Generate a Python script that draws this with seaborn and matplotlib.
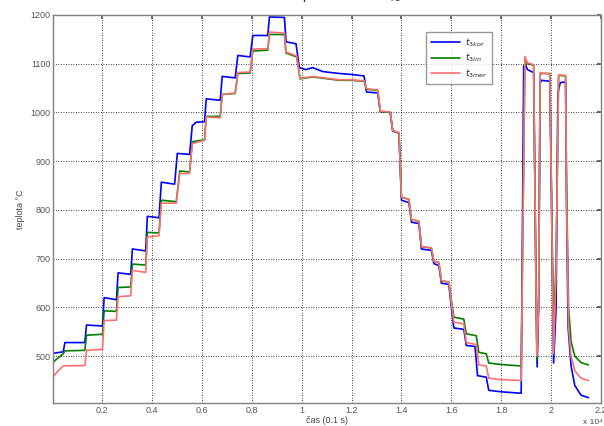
"""Prubeh teplot t3 - korekcia / linearna / meranie, MATLAB-like look."""
import matplotlib
matplotlib.use("Agg")
import matplotlib.pyplot as plt
import numpy as np
import pandas as pd
import seaborn as sns

sns.set_theme(style="white")
plt.rcParams["font.family"] = ["Liberation Sans", "DejaVu Sans"]

# ---- data (cas in 0.1 s samples, teplota in degC)
kor_x = [40, 440, 507, 1307, 1373, 2013, 2080, 2573, 2640, 3146, 3213, 3746,
         3813, 4280, 4373, 4906, 5013, 5506, 5613, 5773, 6106, 6173, 6733,
         6813, 7333, 7440, 7933, 8040, 8640, 8707, 9307, 9373, 9773, 9907,
         10173, 10440, 10840, 11507, 12000, 12500, 12600, 13050, 13150,
         13550, 13650, 13900, 14000, 14300, 14400, 14700, 14800, 15200,
         15300, 15500, 15600, 15900, 16000, 16100, 16500, 16600, 16950,
         17050, 17400, 17500, 18000, 18800,
         18900, 18960, 19050, 19300, 19380, 19440, 19500, 19560, 19620,
         19950, 20020, 20100, 20200, 20270, 20350, 20400, 20580, 20620,
         20680, 20800, 20950, 21200, 21500]
kor_y = [506, 509, 528, 528, 564, 562, 620, 616, 671, 668, 720, 716,
         787, 784, 857, 853, 916, 914, 973, 980, 981, 1028, 1025,
         1074, 1071, 1117, 1114, 1158, 1158, 1196, 1195, 1145, 1141, 1092,
         1088, 1092, 1084, 1080, 1078, 1075, 1042, 1040, 1002,
         1000, 962, 958, 820, 815, 775, 772, 720, 717, 690,
         686, 650, 647, 600, 558, 555, 522, 520,
         460, 457, 430, 427, 424,
         1095, 1100, 1088, 1082, 700, 478, 600, 1060, 1066,
         1064, 800, 486, 600, 1040, 1058, 1062, 1062, 800,
         560, 480, 440, 420, 415]

lin_x = [40, 200, 440, 507, 1307, 1373, 2013, 2080, 2573, 2640, 3146, 3213,
         3746, 3813, 4280, 4373, 4973, 5113, 5506, 5613, 6106, 6173, 6733,
         6813, 7333, 7440, 7933, 8040, 8640, 8707, 9307, 9373, 9800, 9933,
         10440, 11507, 12000, 12500, 12600, 13050, 13150,
         13550, 13650, 13900, 14000, 14300, 14400, 14700, 14800, 15200,
         15300, 15500, 15600, 15900, 16000, 16100, 16500, 16600, 17000,
         17100, 17400, 17500, 18000, 18800,
         18950, 19050, 19300, 19380, 19430, 19500, 19560, 19620,
         19950, 20020, 20100, 20200, 20300, 20350, 20580, 20620,
         20700, 20800, 20950, 21200, 21500]
lin_y = [488, 495, 505, 511, 512, 543, 545, 593, 592, 641, 642, 689,
         687, 754, 753, 820, 817, 880, 878, 940, 944, 992, 992,
         1037, 1039, 1080, 1081, 1126, 1128, 1160, 1160, 1122, 1114, 1069,
         1073, 1066, 1066, 1064, 1048, 1045, 1002,
         1000, 962, 958, 826, 822, 780, 777, 725, 722, 695,
         692, 655, 652, 615, 580, 576, 546, 542,
         508, 505, 486, 483, 480,
         1111, 1100, 1097, 720, 492, 620, 1078, 1080,
         1080, 820, 540, 700, 1075, 1076, 1075, 850,
         600, 530, 500, 487, 482]

mer_x = [40, 200, 440, 1307, 1373, 2013, 2080, 2573, 2640, 3146, 3213, 3746,
         3813, 4280, 4373, 4973, 5113, 5506, 5613, 6106, 6173, 6733,
         6813, 7333, 7440, 7933, 8040, 8640, 8707, 9307, 9373, 9800, 9933,
         10440, 11507, 12000, 12500, 12600, 13050, 13150,
         13550, 13650, 13900, 14000, 14300, 14400, 14700, 14800, 15200,
         15300, 15500, 15600, 15900, 16000, 16100, 16500, 16600, 17000,
         17100, 17400, 17500, 18000, 18800,
         18950, 19050, 19300, 19380, 19430, 19500, 19560, 19620,
         19950, 20020, 20100, 20200, 20300, 20350, 20580, 20620,
         20700, 20800, 20950, 21200, 21500]
mer_y = [458, 468, 480, 481, 512, 514, 573, 574, 622, 624, 676, 672,
         745, 747, 814, 814, 875, 875, 936, 943, 991, 989,
         1037, 1040, 1082, 1083, 1130, 1131, 1165, 1163, 1124, 1116, 1070,
         1074, 1067, 1067, 1065, 1049, 1046, 1003,
         1001, 963, 959, 826, 822, 780, 777, 725, 722, 695,
         692, 655, 652, 610, 570, 566, 528, 524,
         482, 480, 455, 452, 450,
         1115, 1102, 1098, 700, 500, 610, 1082, 1081,
         1079, 800, 505, 680, 1077, 1077, 1076, 820,
         560, 500, 470, 455, 450]

series = ["$t_{3kor}$", "$t_{3lin}$", "$t_{3mer}$"]
colors = ["#0000ff", "#008000", "#ff7070"]
xticks = [2000, 4000, 6000, 8000, 10000, 12000, 14000, 16000, 18000, 20000, 22000]
xticklabels = ["0.2", "0.4", "0.6", "0.8", "1", "1.2", "1.4", "1.6", "1.8", "2", "2.2"]
yticks = [500, 600, 700, 800, 900, 1000, 1100, 1200]

df = pd.concat([
    pd.DataFrame({"cas": kor_x, "teplota": kor_y, "serie": series[0]}),
    pd.DataFrame({"cas": lin_x, "teplota": lin_y, "serie": series[1]}),
    pd.DataFrame({"cas": mer_x, "teplota": mer_y, "serie": series[2]}),
], ignore_index=True)

fig = plt.figure(figsize=(6.04, 4.26), dpi=100)
ax = fig.add_axes([53 / 604, 23 / 426, 548 / 604, 388 / 426])

sns.lineplot(data=df, x="cas", y="teplota", hue="serie", hue_order=series,
             palette=dict(zip(series, colors)), estimator=None, sort=False,
             linewidth=1.2, ax=ax)

ax.set_xlim(30, 22000)
ax.set_ylim(404, 1200)
ax.set_xticks(xticks)
ax.set_xticklabels(xticklabels)
ax.set_yticks(yticks)
ax.grid(True, color="black", linestyle=(0, (1, 2)), linewidth=0.6)
ax.tick_params(direction="in", length=3, labelsize=6.5, colors="#555555",
               top=True, right=True, pad=2)
for s in ax.spines.values():
    s.set_color("#808080")
    s.set_linewidth(1.0)

ax.set_xlabel("čas (0.1 s)", fontsize=6.5, color="#444444", labelpad=1)
ax.set_ylabel("teplota °C", fontsize=6.5, color="#444444", labelpad=4)
fig.text(603 / 604, 0, "x 10\u2074", fontsize=6, color="#444444",
         ha="right", va="bottom")
fig.text(0.53, 1.012, "Priebeh teplôt v mieste t$_{4c}$", fontsize=10,
         color="#333333", ha="center", va="center")

leg = ax.legend(loc="upper left", bbox_to_anchor=(0.673, 0.969), fontsize=6.5,
                frameon=True, fancybox=False, handlelength=3.2,
                borderpad=0.5, labelspacing=0.35, handletextpad=0.6,
                title=None)
leg.get_frame().set_edgecolor("#808080")
leg.get_frame().set_linewidth(1.0)

plt.savefig("out.png", dpi=100)
plt.close()
